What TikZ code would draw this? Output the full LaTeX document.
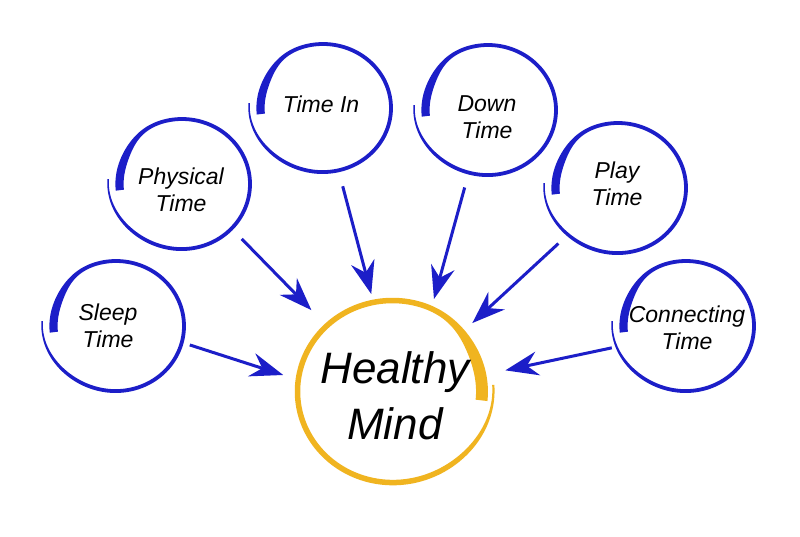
\documentclass[tikz,border=0pt]{standalone}
\usepackage{fontspec}
\setmainfont{Liberation Sans}
\usetikzlibrary{arrows.meta}
\definecolor{bblue}{RGB}{28,30,200}
\definecolor{myell}{RGB}{240,180,32}
% cx cy rx ry theta0 dir color widthscale
\newcommand\brushring[8]{%
  \fill[#7] plot[domain=0:1,samples=180,variable=\t]
    ({#1+(#3+boff(\t)+#8*bw(\t)/2)*cos(#5+(#6)*370*\t)},{#2+(#4+boff(\t)+#8*bw(\t)/2)*sin(#5+(#6)*370*\t)})
    -- plot[domain=1:0,samples=180,variable=\t]
    ({#1+(#3+boff(\t)-#8*bw(\t)/2)*cos(#5+(#6)*370*\t)},{#2+(#4+boff(\t)-#8*bw(\t)/2)*sin(#5+(#6)*370*\t)})
    -- cycle;}
\tikzset{
  declare function={
    gs(\u)=exp(max(-9,-(\u)*(\u)));
    gq(\u)=exp(max(-9,-(\u)*(\u)*(\u)*(\u)));
    bw(\t)=3.8+4.4*gq(\t/0.13)-2.3*gs((1-\t)/0.1);
    boff(\t)=-5.5*gq(\t/0.14)+6*gs((1-\t)/0.12);
  },
  ring/.style={circle, minimum size=136pt, inner sep=0pt},
  lbl/.style={align=center, inner sep=0pt, font=\fontsize{23}{26.5}\selectfont\itshape},
  bigl/.style={align=center, inner sep=0pt, font=\fontsize{44}{56}\selectfont\itshape},
  arr/.style={bblue, line width=3pt, -{Stealth[length=33pt,width=24pt,inset=11pt]}}
}
\begin{document}
\begin{tikzpicture}[x=1pt,y=-1pt]
\useasboundingbox (0,0) rectangle (800,536);
\fill[white] (0,0) rectangle (800,536);
% rings
\brushring{116}{326}{68}{65}{174}{1}{bblue}{1}
\brushring{182}{184}{68}{65}{174}{1}{bblue}{1}
\brushring{323}{108}{68}{64}{174}{1}{bblue}{1}
\brushring{488}{110}{68}{65}{174}{1}{bblue}{1}
\brushring{618}{188}{68}{65}{174}{1}{bblue}{1}
\brushring{686}{326}{68}{65}{174}{1}{bblue}{1}
\brushring{392.5}{391.5}{95}{91}{6}{-1}{myell}{1.45}
% anchor nodes
\node[ring] (sleep) at (116,326) {};
\node[ring] (phys) at (182,184) {};
\node[ring] (timein) at (323,108) {};
\node[ring] (down) at (488,110) {};
\node[ring] (play) at (618,188) {};
\node[ring] (conn) at (686,326) {};
\node[ring, minimum size=192pt] (mind) at (392,391) {};
% labels
\node[lbl] (sleepT) at (108,326) {Sleep\\Time};
\node[lbl] (physT) at (181,190) {Physical\\Time};
\node[lbl] (inT) at (321,104) {Time In};
\node[lbl] (downT) at (487,117) {Down\\Time};
\node[lbl] (playT) at (617,184) {Play\\Time};
\node[lbl] (connT) at (687,328) {Connecting\\Time};
\node[bigl] (mindT) at (395,396) {Healthy\\Mind};
% arrows
\draw[arr, shorten <=8pt, shorten >=14pt] (sleep.-14) -- (mind.173);
\draw[arr, shorten <=13pt, shorten >=18pt] (phys.-42) -- (mind.135);
\draw[arr, shorten <=12.5pt, shorten >=3pt] (timein.-76) -- (mind.102);
\draw[arr, shorten <=12.7pt, shorten >=5pt] (down.-107) -- (mind.65);
\draw[arr, shorten <=13.3pt, shorten >=9pt] (play.-137) -- (mind.40);
\draw[arr, shorten <=9.2pt, shorten >=19pt] (conn.-163) -- (mind.10);
\end{tikzpicture}
\end{document}
